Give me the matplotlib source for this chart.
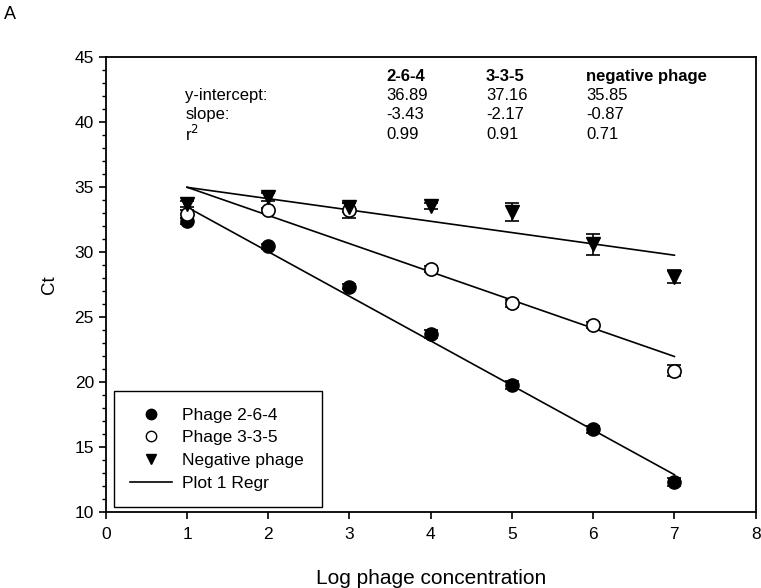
import numpy as np
import matplotlib
matplotlib.use("Agg")
import matplotlib.pyplot as plt
from matplotlib.lines import Line2D
from matplotlib.ticker import MultipleLocator

plt.rcParams['font.family'] = ['Liberation Sans', 'DejaVu Sans']

# Data
log_conc = [1, 2, 3, 4, 5, 6, 7]

ct_264 = [32.4, 30.46, 27.35, 23.7, 19.77, 16.36, 12.33]
err_264 = [0.25, 0.2, 0.2, 0.3, 0.3, 0.3, 0.3]

ct_335 = [32.9, 33.2, 33.2, 28.7, 26.05, 24.4, 20.87]
err_335 = [0.3, 0.2, 0.55, 0.2, 0.25, 0.2, 0.42]

ct_neg = [33.7, 34.25, 33.45, 33.55, 33.1, 30.6, 28.1]
err_neg = [0.2, 0.3, 0.35, 0.25, 0.7, 0.8, 0.5]

# regression parameters shown in the table
groups = ['2-6-4', '3-3-5', 'negative phage']
intercepts = [36.89, 37.16, 35.85]
slopes = [-3.43, -2.17, -0.87]
r2 = [0.99, 0.91, 0.71]

fig = plt.figure(figsize=(7.61, 5.88), dpi=100)
ax = fig.add_axes([0.139, 0.129, 0.854, 0.774])

# regression lines over the measured range
xr = np.array([min(log_conc), max(log_conc)])
for b, m in zip(intercepts, slopes):
    ax.plot(xr, b + m * xr, color='black', linewidth=1.2, zorder=2)

eb = dict(capsize=5, elinewidth=1.2, capthick=1.2, linestyle='none', ecolor='black', zorder=3)
ax.errorbar(log_conc, ct_264, yerr=err_264, marker='o', markersize=9.5,
            markerfacecolor='black', markeredgecolor='black', **eb)
ax.errorbar(log_conc, ct_335, yerr=err_335, marker='o', markersize=9.5,
            markerfacecolor='white', markeredgecolor='black', markeredgewidth=1.2, **eb)
ax.errorbar(log_conc, ct_neg, yerr=err_neg, marker='v', markersize=9.5,
            markerfacecolor='black', markeredgecolor='black', **eb)

ax.set_xlim(0, 8)
ax.set_ylim(10, 45)
ax.xaxis.set_major_locator(MultipleLocator(1))
ax.yaxis.set_major_locator(MultipleLocator(5))
ax.yaxis.set_minor_locator(MultipleLocator(1))
ax.tick_params(axis='both', which='major', direction='out', length=5, width=1.2, labelsize=12.5)
ax.tick_params(axis='x', which='major', pad=6)
ax.tick_params(axis='y', which='minor', direction='out', length=3, width=1)
for s in ax.spines.values():
    s.set_linewidth(1.3)

ax.set_xlabel('Log phage concentration', fontsize=15, labelpad=19)
ax.set_ylabel('Ct', fontsize=13.5, labelpad=12)

# statistics table
row_y = [43.5, 42.05, 40.55, 39.05]
col_x = [3.45, 4.68, 5.91]
fs = 12
ax.text(0.98, row_y[1], 'y-intercept:', fontsize=fs, va='center')
ax.text(0.98, row_y[2], 'slope:', fontsize=fs, va='center')
ax.text(0.98, row_y[3], 'r$^2$', fontsize=fs, va='center')
for i, g in enumerate(groups):
    ax.text(col_x[i], row_y[0], g, fontsize=fs, fontweight='bold', va='center')
    ax.text(col_x[i], row_y[1], f'{intercepts[i]:.2f}', fontsize=fs, va='center')
    ax.text(col_x[i], row_y[2], f'{slopes[i]:.2f}', fontsize=fs, va='center')
    ax.text(col_x[i], row_y[3], f'{r2[i]:.2f}', fontsize=fs, va='center')

handles = [
    Line2D([], [], marker='o', linestyle='none', color='black', markersize=7.5),
    Line2D([], [], marker='o', linestyle='none', markerfacecolor='white',
           markeredgecolor='black', markersize=7.5),
    Line2D([], [], marker='v', linestyle='none', color='black', markersize=7.5),
    Line2D([], [], color='black', linewidth=1.2),
]
labels = ['Phage 2-6-4', 'Phage 3-3-5', 'Negative phage', 'Plot 1 Regr']
leg = ax.legend(handles, labels, loc='lower left', bbox_to_anchor=(0.012, 0.011, 0.32, 0.2),
                mode='expand', fontsize=12.5, frameon=True, fancybox=False,
                edgecolor='black', framealpha=1, borderpad=0.95, labelspacing=0.43,
                handlelength=2.4, handletextpad=0.6, borderaxespad=0)
leg.get_frame().set_linewidth(1.0)

fig.text(0.005, 0.975, 'A', fontsize=13, va='center')

fig.savefig('out.png', dpi=100)
